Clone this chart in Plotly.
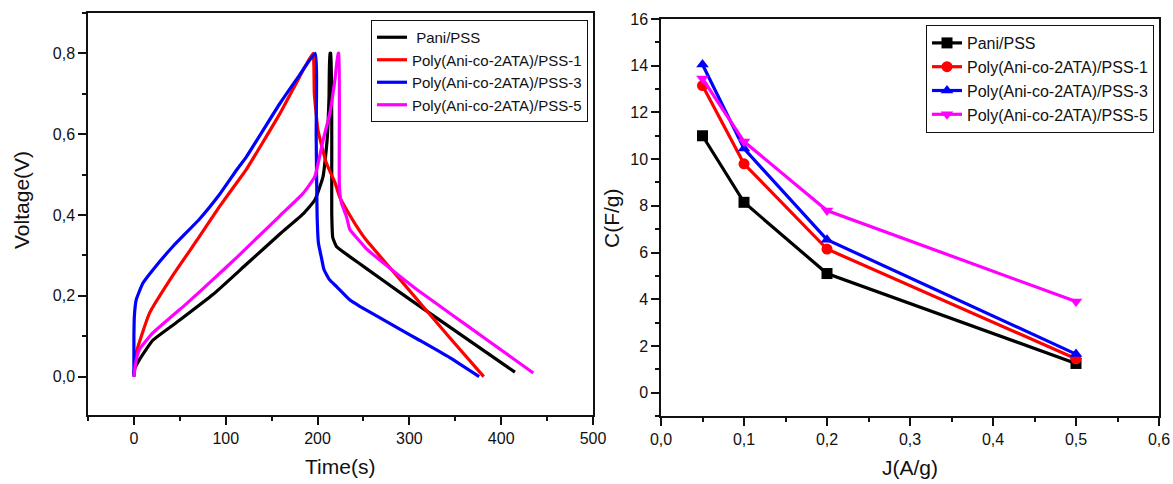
import plotly.graph_objects as go

# ---------------- Left panel: galvanostatic charge/discharge ----------------
names = ["\u00a0Pani/PSS", "Poly(Ani-co-2ATA)/PSS-1", "Poly(Ani-co-2ATA)/PSS-3", "Poly(Ani-co-2ATA)/PSS-5"]
colors = ["#000000", "#FF0000", "#0000FF", "#FF00FF"]

t_pani = [0, 1, 6, 20.6, 50, 86, 122.5, 159, 184, 197, 206, 210.4, 212.5, 213.5, 214.5, 215.5, 216.5, 220.6, 235, 253, 290, 311.5, 415]
v_pani = [0.005, 0.02, 0.042, 0.09, 0.14, 0.203, 0.278, 0.353, 0.402, 0.437, 0.495, 0.585, 0.69, 0.80, 0.80, 0.40, 0.345, 0.322, 0.297, 0.268, 0.208, 0.174, 0.011]

t_pss1 = [0, 2.5, 17, 44, 70, 93, 113, 122.5, 159, 180, 195, 196.5, 200.5, 209.7, 219, 224, 235, 246, 253, 290, 344, 381]
v_pss1 = [0.0, 0.059, 0.157, 0.256, 0.342, 0.42, 0.483, 0.513, 0.651, 0.74, 0.80, 0.70, 0.61, 0.528, 0.48, 0.445, 0.40, 0.36, 0.338, 0.24, 0.096, 0.0]

t_pss3 = [0, 0, 0.5, 2.5, 9.7, 20.6, 42.4, 71.5, 93, 113, 122.5, 159, 180, 197.5, 198.5, 199.5, 201, 204, 207, 213, 221, 235, 246, 270, 290, 311, 344, 376]
v_pss3 = [0.0, 0.10, 0.15, 0.19, 0.231, 0.264, 0.322, 0.39, 0.45, 0.515, 0.544, 0.676, 0.745, 0.80, 0.60, 0.40, 0.33, 0.297, 0.265, 0.24, 0.222, 0.19, 0.174, 0.143, 0.117, 0.09, 0.047, 0.0]

t_pss5 = [0, 2, 6, 20.6, 57, 86, 113, 122.5, 159, 184, 197, 206, 213.3, 218.8, 222.4, 223.2, 223.8, 226, 231.5, 235, 246, 253, 290, 311.5, 344, 384, 435]
v_pss5 = [0.0, 0.035, 0.067, 0.108, 0.18, 0.24, 0.297, 0.318, 0.398, 0.453, 0.495, 0.585, 0.651, 0.733, 0.80, 0.80, 0.47, 0.43, 0.396, 0.365, 0.335, 0.317, 0.248, 0.21, 0.157, 0.092, 0.009]

# ---------------- Right panel: specific capacitance vs current density ----------------
J = [0.05, 0.1, 0.2, 0.5]
c_pani = [11.0, 8.15, 5.1, 1.25]
c_pss1 = [13.15, 9.8, 6.15, 1.45]
c_pss3 = [14.05, 10.45, 6.55, 1.65]
c_pss5 = [13.45, 10.75, 7.8, 3.9]
right_names = ["Pani/PSS", "Poly(Ani-co-2ATA)/PSS-1", "Poly(Ani-co-2ATA)/PSS-3", "Poly(Ani-co-2ATA)/PSS-5"]
symbols = ["square", "circle", "triangle-up", "triangle-down"]

FONT = "Arial, 'Liberation Sans', sans-serif"
fig = go.Figure()

for t, v, n, c in zip([t_pani, t_pss1, t_pss3, t_pss5], [v_pani, v_pss1, v_pss3, v_pss5], names, colors):
    fig.add_trace(go.Scatter(x=t, y=v, mode="lines", name=n,
                             line=dict(color=c, width=3.2, shape="spline", smoothing=0.4),
                             xaxis="x", yaxis="y", legend="legend"))

for cv, n, c, s in zip([c_pani, c_pss1, c_pss3, c_pss5], right_names, colors, symbols):
    fig.add_trace(go.Scatter(x=J, y=cv, mode="lines+markers", name=n, line=dict(color=c, width=3.2),
                             marker=dict(symbol=s, size=11, color=c),
                             xaxis="x2", yaxis="y2", legend="legend2"))

W, H = 1173, 484
def px_x(p): return p / W
def px_y(p): return 1 - p / H

axis_common = dict(showline=True, linecolor="#111111", linewidth=1.5, mirror=True,
                   ticks="outside", ticklen=8, tickwidth=1.5, tickcolor="#111111",
                   showgrid=False, zeroline=False,
                   tickfont=dict(family=FONT, size=16, color="#111111"),
                   automargin=False)
minor_common = dict(ticks="outside", ticklen=4, tickwidth=1.5, tickcolor="#111111")

fig.update_layout(
    width=W, height=H,
    margin=dict(l=0, r=0, t=0, b=0),
    paper_bgcolor="white", plot_bgcolor="white",
    separators=", ",
    showlegend=True,
    xaxis=dict(domain=[px_x(88), px_x(593)], range=[-50, 500], tick0=0, dtick=100,
               minor=dict(dtick=50, tick0=0, **minor_common),
               anchor="y", **axis_common),
    yaxis=dict(domain=[px_y(415), px_y(13)], range=[-0.095, 0.9], tick0=0, dtick=0.2, tickformat=".1f",
               minor=dict(dtick=0.1, tick0=0, **minor_common),
               anchor="x", **axis_common),
    xaxis2=dict(domain=[px_x(661), px_x(1159)], range=[0, 0.6], tick0=0, dtick=0.1, tickformat=".1f",
                minor=dict(dtick=0.05, tick0=0, **minor_common),
                anchor="y2", **axis_common),
    yaxis2=dict(domain=[px_y(416), px_y(19)], range=[-1, 16], tick0=0, dtick=2,
                minor=dict(dtick=1, tick0=0, **minor_common),
                anchor="x2", **axis_common),
    legend=dict(x=px_x(588), y=px_y(20), xanchor="right", yanchor="top",
                bordercolor="#111111", borderwidth=1, bgcolor="white",
                font=dict(family=FONT, size=15, color="#111111"),
                tracegroupgap=0, itemwidth=30),
    legend2=dict(x=px_x(1154), y=px_y(25), xanchor="right", yanchor="top",
                 bordercolor="#111111", borderwidth=1, bgcolor="white",
                 font=dict(family=FONT, size=16, color="#111111"),
                 tracegroupgap=0, itemwidth=30),
    annotations=[
        dict(text="Time(s)", x=px_x(340), y=px_y(466), xref="paper", yref="paper",
             showarrow=False, font=dict(family=FONT, size=21, color="#111111"), xanchor="center", yanchor="middle"),
        dict(text="Voltage(V)", x=px_x(22), y=px_y(200), xref="paper", yref="paper", textangle=-90,
             showarrow=False, font=dict(family=FONT, size=21, color="#111111"), xanchor="center", yanchor="middle"),
        dict(text="J(A/g)", x=px_x(910), y=px_y(467), xref="paper", yref="paper",
             showarrow=False, font=dict(family=FONT, size=21, color="#111111"), xanchor="center", yanchor="middle"),
        dict(text="C(F/g)", x=px_x(612), y=px_y(218), xref="paper", yref="paper", textangle=-90,
             showarrow=False, font=dict(family=FONT, size=21, color="#111111"), xanchor="center", yanchor="middle"),
    ],
)

fig.write_html("out.html", config={"displayModeBar": False},
               post_script="document.body.style.margin='0';document.body.style.overflow='hidden';")
